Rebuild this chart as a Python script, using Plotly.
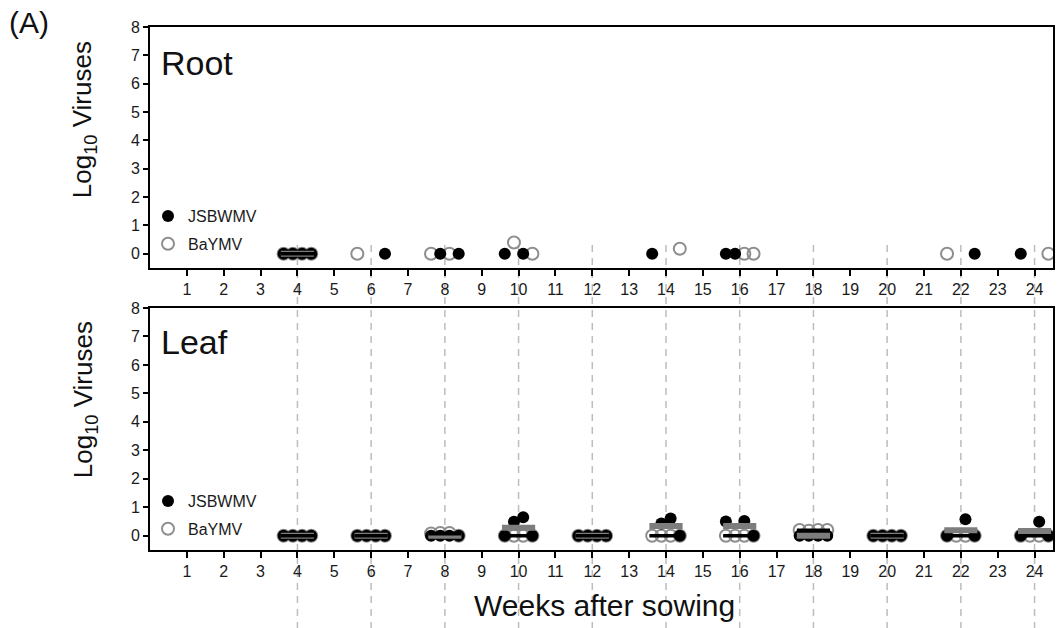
import plotly.graph_objects as go

# Sampling weeks and the four sample slots drawn around each week
weeks = [4, 6, 8, 10, 12, 14, 16, 18, 20, 22, 24]
slot_offsets = [-0.375, -0.125, 0.125, 0.375]

# Log10 virus titres per week (None = no sample plotted)
root_jsbwmv = [
    [0, 0, 0, 0],
    [None, None, None, 0],
    [None, 0, None, 0],
    [0, None, 0, None],
    [None, None, None, None],
    [0, None, None, None],
    [0, 0, None, None],
    [None, None, None, None],
    [None, None, None, None],
    [None, None, None, 0],
    [0, None, None, None],
]
root_baymv = [
    [0, 0, 0, 0],
    [0, None, None, None],
    [0, None, 0, None],
    [None, 0.4, None, 0],
    [None, None, None, None],
    [None, None, None, 0.18],
    [None, None, 0, 0],
    [None, None, None, None],
    [None, None, None, None],
    [0, None, None, None],
    [None, None, None, 0],
]
leaf_jsbwmv = [
    [0, 0, 0, 0],
    [0, 0, 0, 0],
    [0, 0, 0, 0],
    [0, 0.49, 0.65, 0],
    [0, 0, 0, 0],
    [None, 0.43, 0.61, 0],
    [0.5, None, 0.52, 0],
    [0, 0, 0, 0],
    [0, 0, 0, 0],
    [0, None, 0.58, 0],
    [0, None, 0.49, 0],
]
leaf_baymv = [
    [0, 0, 0, 0],
    [0, 0, 0, 0],
    [0.08, 0.1, 0.1, 0],
    [0, 0, 0, 0],
    [0, 0, 0, 0],
    [0, 0, 0, 0],
    [0, 0, 0, 0],
    [0.2, 0.18, 0.2, 0.2],
    [0, 0, 0, 0],
    [0, 0, 0, 0],
    [0, 0, 0, 0],
]

x_ticks = list(range(1, 25))
y_ticks = list(range(0, 9))

FONT = "Arial, Liberation Sans, Helvetica, sans-serif"
GREY_PT = "#8e8e8e"
GREY_BAR = "#7d7d7d"
DASH_GREY = "#bdbdbd"

# page geometry (pixels)
W, H = 1062, 628
ML, MR, MT, MB = 150, 7, 27, 78
PW, PH = W - ML - MR, H - MT - MB


def px_x(p):
    return (p - ML) / PW


def px_y(p):
    return (H - MB - p) / PH


def points(values):
    xs, ys = [], []
    for wk, row in zip(weeks, values):
        for off, v in zip(slot_offsets, row):
            if v is not None:
                xs.append(wk + off)
                ys.append(v)
    return xs, ys


def mean_bars(values, half=0.45, min_n=3):
    xs, ys = [], []
    for wk, row in zip(weeks, values):
        vals = [v for v in row if v is not None]
        if len(vals) >= min_n:
            m = sum(vals) / len(vals)
            xs += [wk - half, wk + half, None]
            ys += [m, m, None]
    return xs, ys


fig = go.Figure()

panels = [
    ("x", "y", "legend", root_jsbwmv, root_baymv),
    ("x2", "y2", "legend2", leaf_jsbwmv, leaf_baymv),
]
for xa, ya, leg, jsb, bay in panels:
    jx, jy = points(jsb)
    bx, by = points(bay)
    # open BaYMV circles first so the filled JSBWMV dots sit on top
    fig.add_trace(go.Scatter(
        x=bx, y=by, mode="markers", name="BaYMV", xaxis=xa, yaxis=ya,
        legend=leg, legendgroup=leg + "b", legendrank=2,
        marker=dict(color=GREY_PT, size=12, symbol="circle-open",
                    line=dict(width=2, color=GREY_PT)),
    ))
    fig.add_trace(go.Scatter(
        x=jx, y=jy, mode="markers", name="JSBWMV", xaxis=xa, yaxis=ya,
        legend=leg, legendgroup=leg + "j", legendrank=1,
        marker=dict(color="black", size=12, line=dict(width=0)),
    ))
    gx, gy = mean_bars(jsb)
    fig.add_trace(go.Scatter(
        x=gx, y=gy, mode="lines", xaxis=xa, yaxis=ya, showlegend=False,
        line=dict(color=GREY_BAR, width=6), hoverinfo="skip",
    ))
    kx, ky = mean_bars(bay)
    fig.add_trace(go.Scatter(
        x=kx, y=ky, mode="lines", xaxis=xa, yaxis=ya, showlegend=False,
        line=dict(color="black", width=3.5), hoverinfo="skip",
    ))

# dashed guides at every sampling week, running down through both panels
for wk in weeks:
    fig.add_shape(
        type="line", xref="x", yref="paper", x0=wk, x1=wk,
        y0=px_y(245), y1=px_y(H), layer="below",
        line=dict(color=DASH_GREY, width=1.5, dash="7px,6px"),
    )

axis_common = dict(
    showline=True, linewidth=2, linecolor="black", mirror=True,
    ticks="outside", ticklen=6, tickwidth=1.5, tickcolor="black",
    showgrid=False, zeroline=False,
    tickfont=dict(family=FONT, size=16, color="#1a1a1a"),
)
x_common = dict(axis_common, range=[0, 24.5], tickvals=x_ticks)
y_common = dict(axis_common, range=[-0.5, 8], tickvals=y_ticks, ticklen=5)

legend_common = dict(
    font=dict(family=FONT, size=16, color="#1a1a1a"),
    bgcolor="rgba(0,0,0,0)", borderwidth=0, tracegroupgap=4,
    xanchor="left", yanchor="top", itemsizing="trace",
)

fig.update_layout(
    width=W, height=H,
    margin=dict(l=ML, r=MR, t=MT, b=MB),
    paper_bgcolor="white", plot_bgcolor="rgba(0,0,0,0)",
    xaxis=dict(x_common, anchor="y", domain=[0, 1]),
    yaxis=dict(y_common, anchor="x", domain=[px_y(268), 1]),
    xaxis2=dict(x_common, anchor="y2", domain=[0, 1]),
    yaxis2=dict(y_common, anchor="x2", domain=[0, px_y(308)]),
    legend=dict(legend_common, x=px_x(148), y=px_y(199)),
    legend2=dict(legend_common, x=px_x(148), y=px_y(484)),
    showlegend=True,
    annotations=[
        dict(text="(A)", xref="paper", yref="paper", x=px_x(7), y=px_y(22),
             xanchor="left", yanchor="middle", showarrow=False,
             font=dict(family=FONT, size=30, color="#111")),
        dict(text="Root", xref="paper", yref="paper", x=px_x(159), y=px_y(63),
             xanchor="left", yanchor="middle", showarrow=False,
             font=dict(family=FONT, size=34, color="#111")),
        dict(text="Leaf", xref="paper", yref="paper", x=px_x(159), y=px_y(342),
             xanchor="left", yanchor="middle", showarrow=False,
             font=dict(family=FONT, size=34, color="#111")),
        dict(text="Log<sub>10</sub> Viruses", xref="paper", yref="paper",
             x=px_x(84), y=px_y(120), textangle=-90,
             xanchor="center", yanchor="middle", showarrow=False,
             font=dict(family=FONT, size=26, color="#111")),
        dict(text="Log<sub>10</sub> Viruses", xref="paper", yref="paper",
             x=px_x(84), y=px_y(400), textangle=-90,
             xanchor="center", yanchor="middle", showarrow=False,
             font=dict(family=FONT, size=26, color="#111")),
        dict(text="Weeks after sowing", xref="paper", yref="paper",
             x=px_x(606), y=px_y(605), xanchor="center", yanchor="middle",
             showarrow=False, font=dict(family=FONT, size=30, color="#111")),
    ],
)

fig.write_html("out.html")
